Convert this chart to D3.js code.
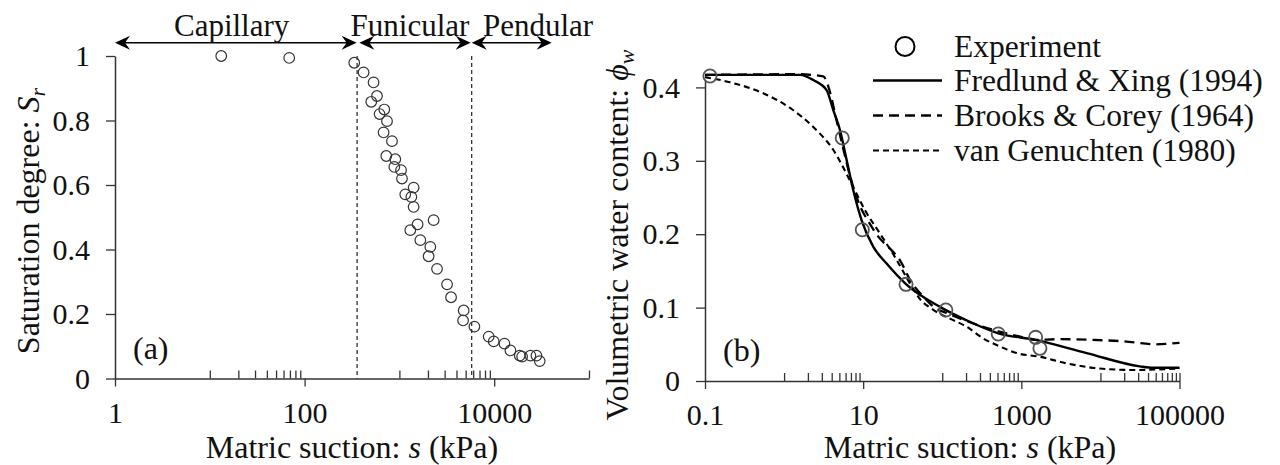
<!DOCTYPE html>
<html>
<head>
<meta charset="utf-8">
<script src="https://cdn.jsdelivr.net/npm/d3@7"></script>
<style>
body { margin: 0; background: #fff; }
</style>
</head>
<body>
<svg id="chart" width="1280" height="465"></svg>
<script>
// ---- (a) saturation degree vs matric suction ----
const suctionA = [13.2, 68.8, 334, 419, 534, 580, 505, 693, 618, 740, 681, 835, 727, 905, 884, 1040, 1065,
	1413, 1153, 1336, 1413, 2297, 1556, 1303, 1663, 2120, 2033, 2494, 3182, 3508, 4764, 4698, 6183, 8750,
	9880, 12820, 14830, 18580, 19700, 24100, 27900, 30200]
const saturation = [1.0, 0.994, 0.979, 0.949, 0.918, 0.876, 0.858, 0.834, 0.820, 0.798, 0.763, 0.736, 0.690,
	0.680, 0.656, 0.646, 0.620, 0.592, 0.571, 0.563, 0.532, 0.491, 0.478, 0.460, 0.429, 0.408, 0.379, 0.340,
	0.292, 0.252, 0.211, 0.180, 0.161, 0.130, 0.115, 0.108, 0.087, 0.071, 0.068, 0.071, 0.071, 0.054]
const zoneNames = ['Capillary', 'Funicular', 'Pendular']
const zoneFrom = [1, 378, 5790]
const zoneTo = [354, 5650, 40400]
const zoneLabelAt = [17, 1294, 28970]
const zoneBounds = [358, 5790]
const ticksA_major = [1, 100, 10000]
const ticksA_minor = [10, 20, 30, 40, 50, 60, 70, 80, 90, 1000, 2000, 3000, 4000, 5000, 6000, 7000, 8000, 9000, 100000]
const ticksA_y = [0, 0.2, 0.4, 0.6, 0.8, 1]

// ---- (b) volumetric water content ----
const suctionExp = [0.1156, 5.44, 9.75, 34.8, 111, 511, 1517, 1718]
const thetaExp = [0.4155, 0.331, 0.206, 0.1317, 0.0967, 0.064, 0.0595, 0.0445]
const suctionFX = [0.1, 0.5, 1.59, 2.34, 3.46, 4.19, 5.09, 6.18, 7.5, 9.57, 13.4, 19.8, 34.8, 93.5, 200, 511,
	1517, 6700, 31500, 46500, 100000]
const thetaFX = [0.417, 0.417, 0.417, 0.410, 0.396, 0.369, 0.342, 0.301, 0.260, 0.219, 0.183, 0.160, 0.132,
	0.101, 0.083, 0.065, 0.056, 0.038, 0.020, 0.018, 0.018]
const suctionBC = [0.1, 1.44, 3.13, 3.8, 4.5, 5.5, 7, 9, 12, 16, 22, 29, 40, 60, 80, 111, 200, 500, 1000, 1500,
	3000, 8000, 20000, 50000, 100000]
const thetaBC = [0.417, 0.418, 0.415, 0.394, 0.36, 0.32, 0.275, 0.24, 0.215, 0.195, 0.18, 0.165, 0.136, 0.113,
	0.100, 0.093, 0.082, 0.068, 0.060, 0.056, 0.057, 0.056, 0.054, 0.050, 0.052]
const suctionVG = [0.1, 0.207, 0.546, 1.19, 2.34, 4.18, 7.5, 10.5, 16.3, 26.5, 38, 52, 77, 125, 203, 330, 536,
	871, 1718, 3740, 9860, 26000, 100000]
const thetaVG = [0.414, 0.407, 0.392, 0.372, 0.346, 0.315, 0.264, 0.233, 0.201, 0.165, 0.135, 0.112, 0.097,
	0.085, 0.074, 0.058, 0.047, 0.038, 0.033, 0.024, 0.017, 0.015, 0.017]
const ticksB_major = [0.1, 10, 1000, 100000]
const ticksB_minor = [1, 2, 3, 4, 5, 6, 7, 8, 9, 100, 200, 300, 400, 500, 600, 700, 800, 900,
	10000, 20000, 30000, 40000, 50000, 60000, 70000, 80000, 90000, 100000]
const ticksB_y = [0, 0.1, 0.2, 0.3, 0.4]
const legendNames = ['Experiment', 'Fredlund & Xing (1994)', 'Brooks & Corey (1964)', 'van Genuchten (1980)']

const serif = 'Liberation Serif'
const svg = d3.select('#chart')
const axisColor = '#333'

function styleAxis(g, size) {
	g.attr('font-family', serif).attr('font-size', size)
	g.selectAll('.domain').attr('stroke', axisColor).attr('stroke-width', 1.5)
	g.selectAll('.tick line').attr('stroke', axisColor).attr('stroke-width', 1.3)
}

function xAxes(x, y0, major, minor) {
	svg.append('g')
		.attr('transform', `translate(0,${y0})`)
		.call(d3.axisBottom(x).tickValues(major).tickFormat(d => String(d)).tickSize(8).tickPadding(15).tickSizeOuter(0))
		.call(g => styleAxis(g, 30))
	svg.append('g')
		.attr('transform', `translate(0,${y0})`)
		.call(d3.axisTop(x).tickValues(minor).tickFormat('').tickSize(8).tickSizeOuter(0))
		.call(g => g.select('.domain').remove())
		.call(g => styleAxis(g, 30))
}

function yAxis(y, x0, vals) {
	svg.append('g')
		.attr('transform', `translate(${x0},0)`)
		.call(d3.axisLeft(y).tickValues(vals).tickFormat(d => String(+d.toFixed(1))).tickSize(9).tickPadding(16).tickSizeOuter(0))
		.call(g => styleAxis(g, 30))
}

// ================= panel (a) =================
const xA = d3.scaleLog().domain([1, 100000]).range([115, 589])
const yA = d3.scaleLinear().domain([0, 1]).range([378.5, 56])

yAxis(yA, 115, ticksA_y)
xAxes(xA, 378.5, ticksA_major, ticksA_minor)

svg.selectAll('.bound')
	.data(zoneBounds)
	.enter()
	.append('line')
	.attr('x1', d => xA(d)).attr('x2', d => xA(d))
	.attr('y1', yA(1)).attr('y2', yA(0))
	.attr('stroke', '#222').attr('stroke-width', 1.2)
	.attr('stroke-dasharray', '4,3')

svg.selectAll('.ptA')
	.data(suctionA)
	.enter()
	.append('circle')
	.attr('cx', d => xA(d))
	.attr('cy', (d, i) => yA(saturation[i]))
	.attr('r', 5.3)
	.attr('fill', 'none')
	.attr('stroke', '#333')
	.attr('stroke-width', 1.2)

// zone arrows
const arrowY = 42.7
function arrowHead(xt, dir) {
	return `M${xt},${arrowY} L${xt + dir * 15},${arrowY - 7} L${xt + dir * 10},${arrowY} L${xt + dir * 15},${arrowY + 7} Z`
}
zoneNames.forEach((name, i) => {
	const x1 = xA(zoneFrom[i]), x2 = xA(zoneTo[i])
	svg.append('line')
		.attr('x1', x1 + 5).attr('x2', x2 - 5)
		.attr('y1', arrowY).attr('y2', arrowY)
		.attr('stroke', '#000').attr('stroke-width', 1.6)
	svg.append('path').attr('d', arrowHead(x1, 1)).attr('fill', '#000')
	svg.append('path').attr('d', arrowHead(x2, -1)).attr('fill', '#000')
	svg.append('text')
		.attr('x', xA(zoneLabelAt[i]))
		.attr('y', 36)
		.attr('text-anchor', 'middle')
		.attr('font-size', 31)
		.text(name)
})

svg.append('text').attr('x', 133).attr('y', 359).attr('font-size', 32).text('(a)')

svg.append('text')
	.attr('x', 352).attr('y', 458)
	.attr('text-anchor', 'middle')
	.attr('font-size', 32)
	.call(t => {
		t.append('tspan').text('Matric suction: ')
		t.append('tspan').attr('font-style', 'italic').text('s')
		t.append('tspan').text(' (kPa)')
	})

svg.append('text')
	.attr('transform', 'translate(39,221) rotate(-90)')
	.attr('text-anchor', 'middle')
	.attr('font-size', 32)
	.call(t => {
		t.append('tspan').text('Saturation degree: ')
		t.append('tspan').attr('font-style', 'italic').text('S')
		t.append('tspan').attr('font-style', 'italic').attr('font-size', 22).attr('dy', 6).text('r')
	})

// ================= panel (b) =================
const xB = d3.scaleLog().domain([0.1, 100000]).range([705, 1179.5])
const yB = d3.scaleLinear().domain([0, 0.41]).range([381, 381 - 0.41 * 734])

yAxis(yB, 705, ticksB_y)
xAxes(xB, 381, ticksB_major, ticksB_minor)

const lineB = d3.line()
	.x(d => xB(d[0]))
	.y(d => yB(d[1]))
	.curve(d3.curveMonotoneX)

const curves = [
	{ s: suctionFX, t: thetaFX, dash: null, w: 2.4 },
	{ s: suctionBC, t: thetaBC, dash: '10,6', w: 2.3 },
	{ s: suctionVG, t: thetaVG, dash: '6,4', w: 2.1 }
]
curves.forEach(c => {
	svg.append('path')
		.datum(c.s.map((s, i) => [s, c.t[i]]))
		.attr('d', lineB)
		.attr('fill', 'none')
		.attr('stroke', '#000')
		.attr('stroke-width', c.w)
		.attr('stroke-dasharray', c.dash)
})

svg.selectAll('.ptB')
	.data(suctionExp)
	.enter()
	.append('circle')
	.attr('cx', d => xB(d))
	.attr('cy', (d, i) => yB(thetaExp[i]))
	.attr('r', 6.6)
	.attr('fill', 'none')
	.attr('stroke', '#555')
	.attr('stroke-width', 1.8)

svg.append('text').attr('x', 723).attr('y', 361).attr('font-size', 32).text('(b)')

svg.append('text')
	.attr('x', 970).attr('y', 458)
	.attr('text-anchor', 'middle')
	.attr('font-size', 32)
	.call(t => {
		t.append('tspan').text('Matric suction: ')
		t.append('tspan').attr('font-style', 'italic').text('s')
		t.append('tspan').text(' (kPa)')
	})

svg.append('text')
	.attr('transform', 'translate(628,235) rotate(-90)')
	.attr('text-anchor', 'middle')
	.attr('font-size', 32)
	.call(t => {
		t.append('tspan').text('Volumetric water content: ')
		t.append('tspan').attr('font-style', 'italic').text('\u03D5')
		t.append('tspan').attr('font-style', 'italic').attr('font-size', 22).attr('dy', 6).text('w')
	})

// legend
const legY = [46.5, 80.5, 115.5, 150.5]
const legend = svg.append('g')
legend.append('circle')
	.attr('cx', 905).attr('cy', legY[0])
	.attr('r', 9.5)
	.attr('fill', 'none').attr('stroke', '#000').attr('stroke-width', 2)
curves.forEach((c, i) => {
	legend.append('line')
		.attr('x1', 873).attr('x2', 942)
		.attr('y1', legY[i + 1]).attr('y2', legY[i + 1])
		.attr('stroke', '#000')
		.attr('stroke-width', c.w)
		.attr('stroke-dasharray', c.dash)
})
legend.selectAll('text')
	.data(legendNames)
	.enter()
	.append('text')
	.attr('x', 954)
	.attr('y', (d, i) => legY[i] + 10)
	.attr('font-size', 31.5)
	.text(d => d)

svg.selectAll('text').attr('font-family', serif).style('fill', '#111')
</script>
</body>
</html>
